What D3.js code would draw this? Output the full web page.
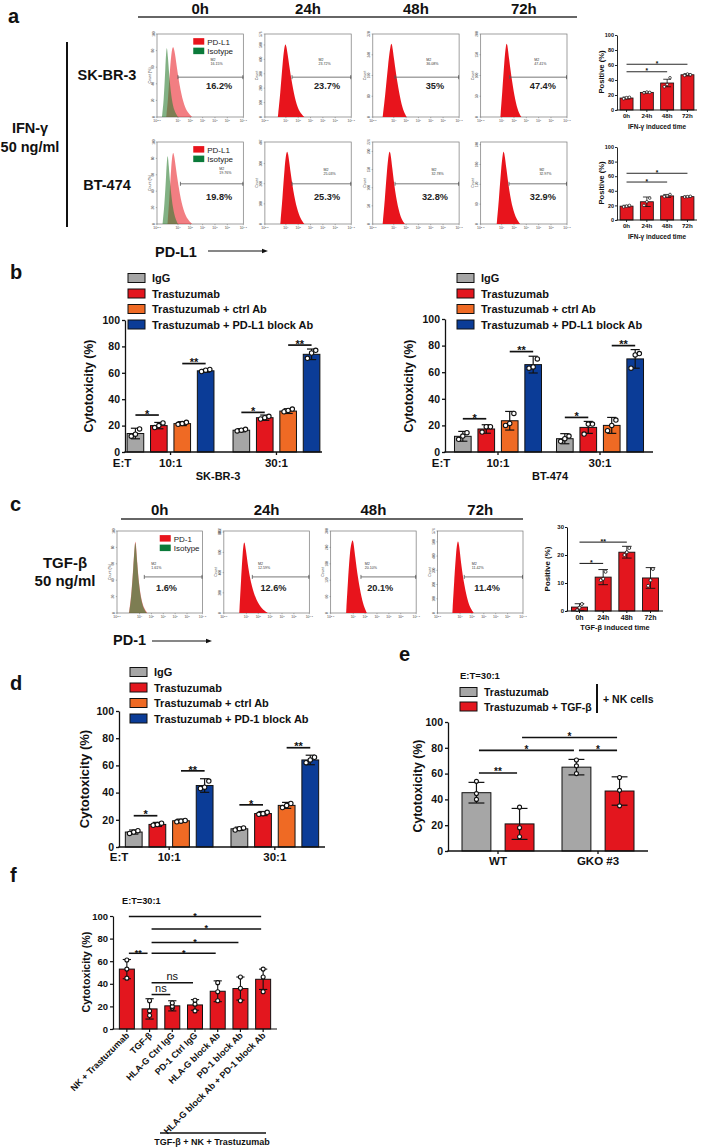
<!DOCTYPE html>
<html><head><meta charset="utf-8">
<script src="https://cdn.jsdelivr.net/npm/d3@7/dist/d3.min.js"></script>
<style>html,body{margin:0;padding:0;background:#fff}</style>
</head><body>
<svg id="chart" width="701" height="1147" xmlns="http://www.w3.org/2000/svg"></svg>
<script>
// ================= DATA =================
const times = ["0h","24h","48h","72h"];
const flowTicksA = [2.3,4,5,6,7,8,9.3];
const flowTicksC = [2.1,4,5,6,7,8,9.3];

// panel a flow (SK-BR-3 row)
const skPct = ["16.2%","23.7%","35%","47.4%"];
const skM2 = ["16.15%","23.72%","36.08%","47.41%"];
const skGate = [4.0,4.5,4.1,4.65];
const skYMax = [100,576,320,200];
const skYTicks = [[0,20,40,60,80,100],[0,100,200,300,400,500,576],[0,80,160,240,320],[0,50,100,150,200]];
const skCurves = [
  [[3.05,0],[3.2,22],[3.35,58],[3.5,82],[3.62,86],[3.75,78],[3.95,55],[4.2,32],[4.5,14],[4.8,5],[5.15,0]],
  [[3.35,0],[3.55,28],[3.75,68],[3.92,90],[4.05,86],[4.25,64],[4.5,40],[4.8,18],[5.1,6],[5.5,0]],
  [[3.1,0],[3.3,25],[3.55,65],[3.75,88],[3.85,90],[4.02,70],[4.28,42],[4.58,18],[4.82,6],[5.05,0]],
  [[3.9,0],[4.05,30],[4.22,68],[4.35,88],[4.45,90],[4.6,70],[4.85,42],[5.1,20],[5.35,6],[5.6,0]]
];
const skIso = [[2.7,0],[2.85,20],[2.98,60],[3.08,90],[3.18,74],[3.32,44],[3.5,20],[3.7,7],[4.0,0]];

// panel a flow (BT-474 row)
const btPct = ["19.8%","25.3%","32.8%","32.9%"];
const btM2 = ["19.76%","25.03%","32.78%","32.97%"];
const btGate = [4.2,4.5,4.1,4.6];
const btYMax = [100,407,226,248];
const btYTicks = [[0,20,40,60,80,100],[0,100,200,300,407],[0,50,100,150,200,226],[0,60,120,180,240]];
const btCurves = [
  [[3.15,0],[3.3,30],[3.45,70],[3.58,90],[3.7,84],[3.9,60],[4.15,36],[4.45,16],[4.8,5],[5.15,0]],
  [[3.55,0],[3.72,30],[3.9,70],[4.05,90],[4.18,88],[4.35,66],[4.6,40],[4.9,18],[5.2,6],[5.5,0]],
  [[3.1,0],[3.27,28],[3.45,66],[3.6,88],[3.72,90],[3.88,68],[4.1,40],[4.4,16],[4.65,5],[4.9,0]],
  [[3.6,0],[3.77,28],[3.95,66],[4.1,88],[4.2,90],[4.38,68],[4.62,40],[4.9,18],[5.2,6],[5.5,0]]
];
const btIso = [[2.75,0],[2.9,22],[3.05,62],[3.15,90],[3.25,72],[3.4,42],[3.6,18],[3.8,6],[4.0,0]];

// panel c flow (TGF-beta)
const cPct = ["1.6%","12.6%","20.1%","11.4%"];
const cM2 = ["1.61%","12.59%","20.10%","11.42%"];
const cGate = [4.4,4.5,4.65,4.35];
const cYMax = [100,812,300,576];
const cYTicks = [[0,20,40,60,80,100],[0,200,400,600,800,812],[0,60,120,180,240,300],[0,100,200,300,400,500,576]];
const cCurves = [
  [[3.1,0],[3.3,20],[3.48,58],[3.6,86],[3.68,90],[3.8,62],[3.95,36],[4.15,16],[4.4,5],[4.65,0]],
  [[3.4,0],[3.55,40],[3.7,78],[3.82,90],[3.95,78],[4.15,55],[4.45,32],[4.85,15],[5.3,5],[5.8,0]],
  [[3.4,0],[3.55,38],[3.72,76],[3.88,88],[4.0,90],[4.15,70],[4.4,42],[4.7,18],[4.95,6],[5.15,0]],
  [[3.35,0],[3.5,38],[3.67,76],[3.8,90],[3.92,84],[4.1,58],[4.35,34],[4.65,14],[4.9,5],[5.15,0]]
];
const cIso = [[3.12,0],[3.3,18],[3.48,56],[3.6,85],[3.67,88],[3.8,60],[3.95,34],[4.15,14],[4.4,4],[4.6,0]];

// panel a bar charts (Positive %)
const aSKMean = [16,23.5,36,47];
const aSKSd = [1.3,1,5,1.5];
const aSKPts = [[15,16.5,17],[23,24,23.5],[31,34,43],[46,48,47]];
const aSKSig = [[0,3,61,"*"],[0,2,51,"*"]];
const aBTMean = [19,25,33,32];
const aBTSd = [1.2,6.5,2,1];
const aBTPts = [[18,19,20],[20,25,30],[32,33,35],[31.5,32,32.5]];
const aBTSig = [[0,3,64,"*"],[0,2,52,"*"]];

// panel b
const bGroups = ["10:1","30:1"];
const bSeries = ["IgG","Trastuzumab","Trastuzumab + ctrl Ab","Trastuzumab + PD-L1 block Ab"];
const bSKMean = [[14,20,21.5,61.5],[16.5,26,31,74]];
const bSKSd = [[4,2.4,1.5,1],[1.2,2,1.8,4]];
const bSKPts = [[[12,13.5,17.5],[18.5,20,22],[21,21.5,22.5],[61,62,62.5]],[[16,16.5,17.2],[25,26,27],[30.5,31.5,32.5],[71,75,77]]];
const bSKSig = [[0,1,28,"*"],[2,3,67,"**"],[4,5,30,"*"],[6,7,81,"**"]];
const bBTMean = [[11.8,17.3,23.5,65.7],[10,18.5,20,70]];
const bBTSd = [[3.7,3.2,7,6.3],[3.8,4.5,6,7]];
const bBTPts = [[[9.5,12,14.5],[15,19,19],[20,21.5,29],[63,64,70]],[[8,10,12],[13.5,21,21],[16,20,24],[63,73,74]]];
const bBTSig = [[0,1,25,"*"],[2,3,75.5,"**"],[4,5,26,"*"],[6,7,80,"**"]];

// panel c bar chart
const cBarMean = [1.4,12.1,21,11.8];
const cBarSd = [1.2,2.7,2.1,3.7];
const cBarPts = [[0.3,1.2,2.5],[11,11.5,14],[20,21,22.5],[9,11,15]];
const cBarSig = [[0,1,17,"*"],[0,2,24.6,"**"]];

// panel d
const dSeries = ["IgG","Trastuzumab","Trastuzumab + ctrl Ab","Trastuzumab + PD-1 block Ab"];
const dMean = [[11,16.6,19.3,45.2],[13.4,24.6,30.6,64]];
const dSd = [[1.5,1.5,1.2,5],[1.2,1.5,2.2,3.5]];
const dPts = [[[10,11,12],[16,16.5,17.5],[18.5,19,19.5],[43,44,48.5]],[[12.5,13.5,14],[24,24.5,25.5],[29,30.5,32],[62,64,66]]];
const dSig = [[0,1,23,"*"],[2,3,56,"**"],[4,5,31,"*"],[6,7,73,"**"]];

// panel e
const eGroups = ["WT","GKO #3"];
const eSeries = ["Trastuzumab","Trastuzumab + TGF-β"];
const eMean = [[45.2,21],[65,46.5]];
const eSd = [[8,12],[6,11]];
const ePts = [[[40,44.5,54],[11,18,34]],[[60,66,70.5],[35,47,57]]];
const eSig = [[0,1,60.5,"**"],[0,2,78,"*"],[2,3,78,"*"],[1,3,88,"*"]];

// panel f
const fCats = ["NK + Trastuzumab","TGF-β","HLA-G Ctrl IgG","PD-1 Ctrl IgG","HLA-G block Ab","PD-1 block Ab","HLA-G block Ab + PD-1 block Ab"];
const fMean = [53,17.8,20.5,21.3,33.4,35.8,44];
const fSd = [8.5,9,4.5,4.7,9.2,10.2,9];
const fPts = [[45,53,61],[12,16,25],[18.5,20,23],[16,22,25.5],[25,33,41],[25,36,46],[33,46,53]];
const fSig = [[0,6,99.5,"*"],[1,6,88.5,"*"],[1,5,76.5,"*"],[1,4,67,"*"],[0,1,67,"**"],[1,3,41,"ns"],[1,2,30.5,"ns"]];

const ticks100 = [0,20,40,60,80,100];

// ================= STYLE =================
const FONT = "'Liberation Sans', Arial, Helvetica, sans-serif";
const COL = {gray:"#a6a6a6", red:"#e3161e", orange:"#ef6a24", blue:"#0b3c97", green:"#0b7a3a", ink:"#111"};
const svg = d3.select("#chart").attr("font-family", FONT);

function T(x, y, s, o = {}) {
  const t = (o.g || svg).append("text").attr("x", x).attr("y", y).text(s)
    .attr("font-size", o.size || 12).attr("font-weight", o.w || "bold")
    .attr("text-anchor", o.a || "start").attr("fill", o.fill || COL.ink);
  if (o.rot) t.attr("transform", `rotate(${o.rot},${x},${y})`);
  return t;
}
function L(x1, y1, x2, y2, sw = 1, c = COL.ink, g = svg) {
  return g.append("line").attr("x1", x1).attr("y1", y1).attr("x2", x2).attr("y2", y2)
    .attr("stroke", c).attr("stroke-width", sw);
}
function arrow(x1, x2, y) {
  L(x1, y, x2 - 4, y, 1.1);
  svg.append("path").attr("d", `M${x2},${y} L${x2-6},${y-2.3} L${x2-6},${y+2.3} Z`).attr("fill", COL.ink);
}

// ================= FLOW HISTOGRAM =================
function flow(x0, y0, w, h, d) {
  const g = svg.append("g");
  const x = d3.scaleLinear().domain(d.dom).range([x0, x0 + w]);
  const yp = d3.scaleLinear().domain([0, 100]).range([y0 + h, y0]);
  const yc = d3.scaleLinear().domain([0, d.ymax]).range([y0 + h, y0]);
  g.append("rect").attr("x", x0).attr("y", y0).attr("width", w).attr("height", h)
    .attr("fill", "#fff").attr("stroke", "#777").attr("stroke-width", 0.7);
  const area = d3.area().x(p => x(p[0])).y0(yp(0)).y1(p => yp(p[1])).curve(d3.curveBasis);
  if (d.iso) {
    g.append("path").datum(d.curve).attr("d", area).attr("fill", "#e8141c").attr("fill-opacity", 0.55);
    g.append("path").datum(d.iso).attr("d", area).attr("fill", "#2e7d32").attr("fill-opacity", 0.6);
  } else {
    g.append("path").datum(d.curve).attr("d", area).attr("fill", "#e8141c");
  }
  d.xt.forEach(v => {
    L(x(v), y0 + h, x(v), y0 + h + 1.2, 0.4, "#555", g);
    const t = g.append("text").attr("x", x(v)).attr("y", y0 + h + 5).attr("font-size", 3.4)
      .attr("text-anchor", "middle").attr("fill", "#444").text("10");
    t.append("tspan").attr("dy", -1.3).attr("font-size", 2.5).text(v);
  });
  d.yt.forEach(v => {
    L(x0 - 1.2, yc(v), x0, yc(v), 0.4, "#555", g);
    T(x0 - 2.5, yc(v), v, {g, size: 3.2, w: "normal", a: "middle", rot: -90, fill: "#444"});
  });
  T(x0 - 6.5, y0 + h / 2, d.ytitle, {g, size: 3.6, w: "normal", a: "middle", rot: -90, fill: "#444"});
  const gy = y0 + h * d.gy;
  L(x(d.gate), gy, x0 + w, gy, 0.8, "#555", g);
  L(x(d.gate), gy - 2, x(d.gate), gy + 2, 0.8, "#555", g);
  L(x0 + w - 0.5, gy - 2, x0 + w - 0.5, gy + 2, 0.8, "#555", g);
  T(x0 + w * d.m2x, y0 + h * d.m2y, "M2", {g, size: 3.6, w: "normal", fill: "#333"});
  T(x0 + w * d.m2x, y0 + h * d.m2y + 4, d.m2, {g, size: 3.6, w: "normal", fill: "#333"});
  T(x0 + w * d.px, y0 + h * d.py, d.pct, {g, size: 9.2, a: "middle", fill: "#222"});
  if (d.leg) {
    const lx = x0 + w * d.legx, ly = y0 + h * 0.05;
    g.append("rect").attr("x", lx).attr("y", ly).attr("width", 11).attr("height", 6.5).attr("fill", "#e8141c");
    g.append("rect").attr("x", lx).attr("y", ly + 9.5).attr("width", 11).attr("height", 6.5).attr("fill", COL.green);
    T(lx + 14, ly + 6.5, d.leg, {g, size: 8, w: "normal", fill: "#222"});
    T(lx + 14, ly + 16, "Isotype", {g, size: 8, w: "normal", fill: "#222"});
  }
}

// ================= BAR CHART =================
function barPanel(o) {
  const g = svg.append("g");
  const y = d3.scaleLinear().domain(o.yDom).range(o.yRange);
  const bars = [], tickX = [];
  if (o.groups) {
    const x0 = d3.scaleBand().domain(o.groups).range(o.xRange).paddingInner(o.pi).paddingOuter(o.po);
    const x1 = d3.scaleBand().domain(o.series).range([0, x0.bandwidth()]).paddingInner(o.pi2);
    o.groups.forEach((gr, gi) => {
      tickX.push(x0(gr) + x0.bandwidth() / 2);
      o.series.forEach((s, si) => bars.push({x: x0(gr) + x1(s) + x1.bandwidth() / 2, w: x1.bandwidth(),
        v: o.mean[gi][si], sd: o.sd[gi][si], pts: o.pts[gi][si], c: o.colors[si]}));
    });
  } else {
    const xb = d3.scaleBand().domain(o.cats).range(o.xRange).paddingInner(o.pi).paddingOuter(o.po);
    o.cats.forEach((c, i) => {
      const cx = xb(c) + xb.bandwidth() / 2;
      tickX.push(cx);
      bars.push({x: cx, w: xb.bandwidth(), v: o.mean[i], sd: o.sd[i], pts: o.pts[i], c: o.color});
    });
  }
  const y0 = y(o.yDom[0]);
  g.selectAll(null).data(bars).join("rect")
    .attr("x", d => d.x - d.w / 2).attr("y", d => y(d.v)).attr("width", d => d.w)
    .attr("height", d => y0 - y(d.v)).attr("fill", d => d.c)
    .attr("stroke", COL.ink).attr("stroke-width", o.bsw);
  bars.forEach(d => {
    const cw = d.w * o.cap / 2;
    const top = y(d.v + d.sd), bot = y(Math.max(o.yDom[0], d.v - d.sd));
    L(d.x, top, d.x, bot, o.ew, COL.ink, g);
    L(d.x - cw, top, d.x + cw, top, o.ew, COL.ink, g);
    L(d.x - cw, bot, d.x + cw, bot, o.ew, COL.ink, g);
  });
  bars.forEach(d => d.pts.forEach((p, k) => {
    g.append("circle").attr("cx", d.x + o.jit[k] * d.w).attr("cy", y(p)).attr("r", o.r)
      .attr("fill", "#fff").attr("stroke", COL.ink).attr("stroke-width", o.pw);
  }));
  const ya = g.append("g").attr("transform", `translate(${o.xRange[0]},0)`)
    .call(d3.axisLeft(y).tickValues(o.yTicks).tickSize(o.ts).tickSizeOuter(0).tickPadding(o.tp).tickFormat(d3.format("d")));
  ya.select(".domain").attr("stroke", COL.ink).attr("stroke-width", o.lw);
  ya.selectAll(".tick line").attr("stroke", COL.ink).attr("stroke-width", o.lw);
  ya.selectAll(".tick text").attr("font-size", o.tf).attr("font-weight", "bold")
    .attr("font-family", FONT).attr("fill", COL.ink);
  L(o.xRange[0] - o.lw / 2, y0, o.xRange[1], y0, o.lw, COL.ink, g);
  tickX.forEach(tx => L(tx, y0, tx, y0 + o.ts, o.lw, COL.ink, g));
  (o.sig || []).forEach(([i, j, v, lab]) => {
    const yy = y(v);
    L(bars[i].x + o.inset, yy, bars[j].x - o.inset, yy, o.sw, COL.ink, g);
    const mx = (bars[i].x + bars[j].x) / 2;
    if (lab === "ns") T(mx, yy - 2.5, lab, {g, size: o.nsf, w: "normal", a: "middle"});
    else T(mx, yy + o.sf * 0.25, lab, {g, size: o.sf, a: "middle"});
  });
  if (o.xlab) o.xlab.forEach((s, i) => T(tickX[i], y0 + o.xlabDy, s, {g, size: o.xlf, a: "middle"}));
  return {g, y, bars, tickX};
}

function legend(x, y, step, labels, colors, size) {
  labels.forEach((s, i) => {
    svg.append("rect").attr("x", x).attr("y", y + i * step - 4.5).attr("width", 17).attr("height", 9)
      .attr("fill", colors[i]).attr("stroke", COL.ink).attr("stroke-width", 1);
    T(x + 24, y + i * step + 4, s, {size});
  });
}

// ================= PANEL a =================
T(8, 23, "a", {size: 20});
const colA = d3.scaleBand().domain(times).range([157, 567]).paddingInner(0.2);
L(138, 17, 577, 17, 1.6, "#333");
times.forEach(t => T(colA(t) + colA.bandwidth() / 2, 14, t, {size: 15, a: "middle"}));
L(67, 42, 67, 227, 2);
T(30, 133, "IFN-γ", {size: 14.5, a: "middle"});
T(30, 152, "50 ng/ml", {size: 14.5, a: "middle"});
T(107, 80, "SK-BR-3", {size: 14.5, a: "middle"});
T(107, 190, "BT-474", {size: 14.5, a: "middle"});
times.forEach((t, i) => {
  flow(colA(t), 34, colA.bandwidth(), 83, {dom: [2.3, 9.3], xt: flowTicksA, curve: skCurves[i],
    iso: i === 0 ? skIso : null, ymax: skYMax[i], yt: skYTicks[i], ytitle: i === 0 ? "Count (%)" : "Count",
    gate: skGate[i], gy: 0.52, m2: skM2[i], m2x: 0.62, m2y: 0.32, pct: skPct[i], px: 0.72, py: 0.66,
    leg: i === 0 ? "PD-L1" : null, legx: 0.42});
  flow(colA(t), 142, colA.bandwidth(), 82, {dom: [2.3, 9.3], xt: flowTicksA, curve: btCurves[i],
    iso: i === 0 ? btIso : null, ymax: btYMax[i], yt: btYTicks[i], ytitle: i === 0 ? "Count (%)" : "Count",
    gate: btGate[i], gy: 0.51, m2: btM2[i], m2x: i === 0 ? 0.72 : 0.68, m2y: i === 0 ? 0.34 : 0.35,
    pct: btPct[i], px: 0.72, py: 0.71, leg: i === 0 ? "PD-L1" : null, legx: 0.42});
});
T(155, 257, "PD-L1", {size: 14.5});
arrow(208, 268, 251);

const smallA = {xRange: [617, 697], yDom: [0, 100], yTicks: ticks100, pi: 0.36, po: 0.15,
  colors: null, color: COL.red, cats: times, ts: 2, tp: 1, lw: 0.9, tf: 5.5, bsw: 0.8, ew: 0.8, cap: 0.6,
  r: 1.3, pw: 0.7, jit: [-0.22, 0, 0.22], sw: 0.9, sf: 6.5, nsf: 6, inset: 0, xlab: times, xlabDy: 8, xlf: 6.2};
barPanel(Object.assign({}, smallA, {yRange: [110, 35], mean: aSKMean, sd: aSKSd, pts: aSKPts, sig: aSKSig}));
barPanel(Object.assign({}, smallA, {yRange: [220, 147], mean: aBTMean, sd: aBTSd, pts: aBTPts, sig: aBTSig}));
T(657, 129, "IFN-γ induced time", {size: 6.5, a: "middle"});
T(657, 239, "IFN-γ induced time", {size: 6.5, a: "middle"});
T(604, 72, "Positive (%)", {size: 7.6, a: "middle", rot: -90});
T(604, 183, "Positive (%)", {size: 7.6, a: "middle", rot: -90});

// ================= PANEL b =================
T(10, 279, "b", {size: 20});
const bColors = [COL.gray, COL.red, COL.orange, COL.blue];
legend(128, 278, 15.5, bSeries, bColors, 11);
legend(457, 278, 15.5, bSeries, bColors, 11);
const bigOpt = {yDom: [0, 100], yTicks: ticks100, groups: bGroups, series: bSeries, colors: bColors,
  ts: 3, tp: 2, lw: 1.3, tf: 10.5, bsw: 1, ew: 1.2, cap: 0.55, r: 2.2, pw: 1.1, jit: [-0.25, 0, 0.25],
  sw: 1.7, sf: 11, nsf: 11, inset: 0, pi2: 0.29, xlab: bGroups, xlabDy: 15, xlf: 11.5};
barPanel(Object.assign({}, bigOpt, {xRange: [125, 322], yRange: [452, 320], pi: 0.18, po: 0.02,
  mean: bSKMean, sd: bSKSd, pts: bSKPts, sig: bSKSig}));
barPanel(Object.assign({}, bigOpt, {xRange: [445, 653], yRange: [452, 319], pi: 0.147, po: 0.093,
  mean: bBTMean, sd: bBTSd, pts: bBTPts, sig: bBTSig}));
T(122, 467, "E:T", {size: 11.5, a: "middle"});
T(441, 467, "E:T", {size: 11.5, a: "middle"});
T(218, 480, "SK-BR-3", {size: 11, a: "middle"});
T(550, 480, "BT-474", {size: 11, a: "middle"});
T(93, 386, "Cytotoxicity (%)", {size: 12.3, a: "middle", rot: -90});
T(413, 386, "Cytotoxicity (%)", {size: 12.3, a: "middle", rot: -90});

// ================= PANEL c =================
T(10, 511, "c", {size: 20});
const colC = d3.scaleBand().domain(times).range([117, 523]).paddingInner(0.2);
L(121, 519, 523, 519, 1.6, "#333");
times.forEach(t => T(colC(t) + colC.bandwidth() / 2, 515, t, {size: 15, a: "middle"}));
T(65, 568, "TGF-β", {size: 15, a: "middle"});
T(65, 586, "50 ng/ml", {size: 15, a: "middle"});
times.forEach((t, i) => {
  flow(colC(t), 531, colC.bandwidth(), 82, {dom: [2.1, 9.3], xt: flowTicksC, curve: cCurves[i],
    iso: i === 0 ? cIso : null, ymax: cYMax[i], yt: cYTicks[i], ytitle: i === 0 ? "Count (%)" : "Count",
    gate: cGate[i], gy: 0.56, m2: cM2[i], m2x: 0.4, m2y: 0.42, pct: cPct[i], px: 0.58, py: 0.73,
    leg: i === 0 ? "PD-1" : null, legx: 0.5});
});
T(113, 645, "PD-1", {size: 14.5});
arrow(152, 212, 641);
barPanel({xRange: [567, 663], yRange: [611, 527], yDom: [0, 30], yTicks: [0, 10, 20, 30], pi: 0.325, po: 0.19,
  cats: times, color: COL.red, mean: cBarMean, sd: cBarSd, pts: cBarPts, sig: cBarSig,
  ts: 2, tp: 1, lw: 1, tf: 6, bsw: 0.9, ew: 0.9, cap: 0.6, r: 1.5, pw: 0.8, jit: [-0.15, 0, 0.15],
  sw: 1, sf: 7, nsf: 7, inset: 0, xlab: times, xlabDy: 9, xlf: 7});
T(615, 630, "TGF-β induced time", {size: 7.4, a: "middle"});
T(550, 569, "Positive (%)", {size: 7.9, a: "middle", rot: -90});

// ================= PANEL d =================
T(10, 690, "d", {size: 20});
legend(130, 672, 15.5, dSeries, bColors, 11);
barPanel(Object.assign({}, bigOpt, {series: dSeries, xRange: [119, 325], yRange: [847, 711], pi: 0.17, po: 0.06,
  mean: dMean, sd: dSd, pts: dPts, sig: dSig, xlabDy: 14}));
T(119, 861, "E:T", {size: 11.5, a: "middle"});
T(89, 779, "Cytotoxicity (%)", {size: 13, a: "middle", rot: -90});

// ================= PANEL e =================
T(399, 661, "e", {size: 20});
T(460, 679, "E:T=30:1", {size: 9.5});
legend(460, 692, 14.5, eSeries, [COL.gray, COL.red], 10.5);
L(597, 684, 597, 713, 2);
T(603, 703, "+ NK cells", {size: 10.5});
barPanel({xRange: [448, 648], yRange: [851, 722], yDom: [0, 100], yTicks: ticks100, groups: eGroups, series: eSeries,
  colors: [COL.gray, COL.red], pi: 0.28, po: 0.14, pi2: 0.33, mean: eMean, sd: eSd, pts: ePts, sig: eSig,
  ts: 3, tp: 2, lw: 1.3, tf: 10.5, bsw: 1, ew: 1.2, cap: 0.55, r: 2, pw: 1.1, jit: [0, 0, 0],
  sw: 1.6, sf: 10, nsf: 10, inset: 2.5, xlab: eGroups, xlabDy: 14, xlf: 11.5});
T(422, 786, "Cytotoxicity (%)", {size: 12.3, a: "middle", rot: -90});

// ================= PANEL f =================
T(10, 882, "f", {size: 20});
T(122, 904, "E:T=30:1", {size: 9.2});
const fp = barPanel({xRange: [113, 277], yRange: [1029, 916], yDom: [0, 100], yTicks: ticks100, cats: fCats,
  color: COL.red, pi: 0.34, po: 0.28, mean: fMean, sd: fSd, pts: fPts, sig: fSig,
  ts: 3, tp: 2, lw: 1.2, tf: 9.5, bsw: 1, ew: 1.1, cap: 0.55, r: 2, pw: 1.1, jit: [0, 0, 0],
  sw: 1.5, sf: 9, nsf: 11, inset: 2});
fCats.forEach((s, i) => T(fp.tickX[i] + 3, 1036, s, {size: 9, a: "end", rot: -45}));
T(90, 972, "Cytotoxicity (%)", {size: 10.7, a: "middle", rot: -90});
L(160, 1133, 266, 1133, 1.6);
T(212, 1145, "TGF-β + NK + Trastuzumab", {size: 9, a: "middle"});
</script>
</body></html>
